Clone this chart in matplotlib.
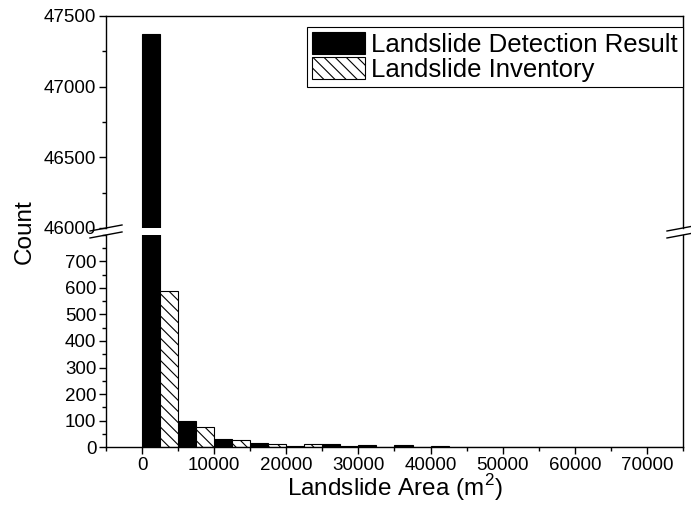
import matplotlib
matplotlib.use('Agg')
import matplotlib.pyplot as plt
from matplotlib.lines import Line2D
from matplotlib.ticker import MultipleLocator
import numpy as np

# ---- data ----
bin_starts = [0, 5000, 10000, 15000, 20000, 25000, 30000, 35000,
              40000, 45000, 50000, 55000, 60000, 65000, 70000]
detection = [47370, 100, 30, 15, 3, 12, 7, 7, 3, 1, 1, 1, 0, 0, 1]
inventory = [590, 75, 28, 11, 10, 2, 1, 1, 1, 1, 1, 0, 1, 0, 0]
det_label = 'Landslide Detection Result'
inv_label = 'Landslide Inventory'
xticks = [0, 10000, 20000, 30000, 40000, 50000, 60000, 70000]
low_yticks = [0, 100, 200, 300, 400, 500, 600, 700]
high_yticks = [46000, 46500, 47000, 47500]

plt.rcParams['font.family'] = ['Liberation Sans', 'DejaVu Sans']
plt.rcParams['mathtext.fontset'] = 'custom'
plt.rcParams['mathtext.rm'] = 'Liberation Sans'
plt.rcParams['hatch.linewidth'] = 0.8

fig = plt.figure(figsize=(6.91, 5.21), dpi=100)
L, W = 0.1534, 0.835
ax_top = fig.add_axes([L, 0.5624, W, 0.4069])
ax_bot = fig.add_axes([L, 0.142, W, 0.407])

x = np.array(bin_starts, dtype=float)
bw = 2500
for ax in (ax_top, ax_bot):
    ax.bar(x, detection, width=bw, align='edge', color='black',
           edgecolor='black', linewidth=0.8, label=det_label)
    ax.bar(x + bw, inventory, width=bw, align='edge', color='white',
           edgecolor='black', hatch='\\\\\\', linewidth=0.8, label=inv_label)
    ax.set_xlim(-5000, 75000)
    for s in ax.spines.values():
        s.set_linewidth(1.0)
    ax.tick_params(axis='both', which='both', direction='out', labelsize=13.5,
                   right=False, top=False)
    ax.tick_params(axis='both', which='major', length=5, width=1, pad=2)
    ax.tick_params(axis='both', which='minor', length=3, width=1)

# upper panel
ax_top.set_ylim(46000, 47500)
ax_top.set_yticks(high_yticks)
ax_top.yaxis.set_minor_locator(MultipleLocator(250))
ax_top.spines['bottom'].set_visible(False)
ax_top.tick_params(axis='x', which='both', bottom=False, labelbottom=False)

# lower panel
ax_bot.set_ylim(0, 800)
ax_bot.set_yticks(low_yticks)
ax_bot.yaxis.set_minor_locator(MultipleLocator(50))
ax_bot.spines['top'].set_visible(False)
ax_bot.set_xticks(xticks)
ax_bot.xaxis.set_minor_locator(MultipleLocator(5000))
ax_bot.set_xlabel('Landslide Area (m$^{2}$)', fontsize=17.5, labelpad=-1)

fig.text(0.036, 0.555, 'Count', rotation=90, va='center', ha='center', fontsize=17.5)

# break marks
dx, dy = 16 / 691, 3 / 521
for xf in (L, L + W):
    for yf in (0.5624, 0.549):
        fig.add_artist(Line2D([xf - dx, xf + dx], [yf - dy, yf + dy],
                              transform=fig.transFigure, color='black', lw=1))

leg = ax_top.legend(loc='upper right', bbox_to_anchor=(1.0, 0.948), borderaxespad=0,
                    fontsize=18.5, fancybox=False, framealpha=1, edgecolor='black',
                    handlelength=2.05, handleheight=0.95, handletextpad=0.25,
                    labelspacing=0.0, borderpad=0.2)
leg.get_frame().set_linewidth(0.8)

fig.savefig('out.png', dpi=100)
